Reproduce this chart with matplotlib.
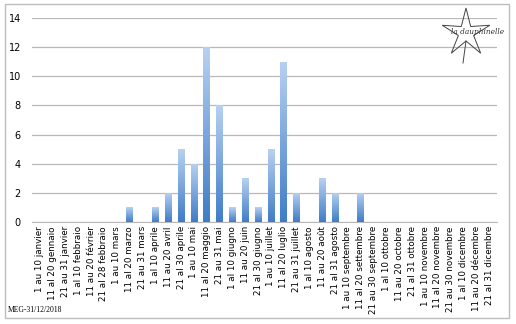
import matplotlib
matplotlib.use("Agg")
import matplotlib.pyplot as plt
import numpy as np
from matplotlib.patches import Rectangle
from matplotlib.colors import LinearSegmentedColormap

categories = [
    "1 au 10 janvier", "11 al 20 gennaio", "21 au 31 janvier",
    "1 al 10 febbraio", "11 au 20 février", "21 al 28 febbraio",
    "1 au 10 mars", "11 al 20 marzo", "21 au 31 mars",
    "1 al 10 aprile", "11 au 20 avril", "21 al 30 aprile",
    "1 au 10 mai", "11 al 20 maggio", "21 au 31 mai",
    "1 al 10 giugno", "11 au 20 juin", "21 al 30 giugno",
    "1 au 10 juillet", "11 al 20 luglio", "21 au 31 juillet",
    "1 al 10 agosto", "11 au 20 août", "21 al 31 agosto",
    "1 au 10 septembre", "11 al 20 settembre", "21 au 30 septembre",
    "1 al 10 ottobre", "11 au 20 octobre", "21 al 31 ottobre",
    "1 au 10 novembre", "11 al 20 novembre", "21 au 30 novembre",
    "1 al 10 dicembre", "11 au 20 décembre", "21 al 31 dicembre",
]
values = [0, 0, 0, 0, 0, 0, 0, 1, 0, 1, 2, 5, 4, 12, 8, 1, 3, 1,
          5, 11, 2, 0, 3, 2, 0, 2, 0, 0, 0, 0, 0, 0, 0, 0, 0, 0]
yticks = [0, 2, 4, 6, 8, 10, 12, 14]

fig = plt.figure(figsize=(5.16, 3.24), dpi=100)
fig.patch.set_facecolor("white")
# outer frame
fig.add_artist(Rectangle((5 / 516, 1 - 318 / 324), 504 / 516, 314 / 324,
                         transform=fig.transFigure, fill=False,
                         edgecolor="#bdbdbd", linewidth=1.0))

ax = fig.add_axes([32 / 516, 1 - 222 / 324, 465 / 516, 204 / 324])
x = np.arange(len(categories))
bars = ax.bar(x, values, width=0.52, color="none", edgecolor="none", zorder=3)

grad = np.linspace(0, 1, 256).reshape(-1, 1)
cmap = LinearSegmentedColormap.from_list("g", ["#3f7cc8", "#b8d1f1"])
for b in bars:
    h = b.get_height()
    if h <= 0:
        continue
    x0 = b.get_x()
    w = b.get_width()
    im = ax.imshow(grad, extent=(x0, x0 + w, 0, h), origin="lower",
                   cmap=cmap, aspect="auto", zorder=3)
    im.set_clip_path(b)

ax.set_xlim(-0.6, len(categories) - 0.4)
ax.set_ylim(0, 14)
ax.set_yticks(yticks)
ax.set_yticklabels([str(v) for v in yticks], fontsize=7)
ax.set_xticks(x)
ax.set_xticklabels(categories, rotation=90, fontsize=6.3)
ax.grid(axis="y", color="#b8b8b8", linewidth=0.9, zorder=0)
for s in ["top", "right", "left"]:
    ax.spines[s].set_visible(False)
ax.spines["bottom"].set_color("#b8b8b8")
ax.tick_params(axis="both", length=0, pad=3)
ax.tick_params(axis="y", pad=8)

# logo (approximate flower outline)
lx, ly = 466, 33
n = 5
ang = np.linspace(0, 2 * np.pi, 2 * n + 1)[:-1] + np.pi / 2
r = np.where(np.arange(2 * n) % 2 == 0, 25, 8)
px = (lx + r * np.cos(ang)) / 516
py = 1 - (ly - r * np.sin(ang)) / 324
fig.add_artist(plt.Polygon(np.column_stack([px, py]), closed=True, fill=False,
                           edgecolor="#444444", linewidth=0.7,
                           transform=fig.transFigure))
fig.add_artist(plt.Line2D([lx / 516, (lx - 3) / 516],
                          [1 - (ly + 8) / 324, 1 - (ly + 30) / 324],
                          color="#444444", linewidth=0.7,
                          transform=fig.transFigure))
fig.text((lx + 12) / 516, 1 - (ly - 1) / 324, "la dauphinelle", fontsize=5.3,
         family="DejaVu Serif", style="italic", color="#333333",
         ha="center", va="center")

fig.text(8 / 516, 1 - 310 / 324, "MEG-31/12/2018", fontsize=5.5,
         family="Liberation Serif", ha="left", va="center")

fig.savefig("out.png", dpi=100)
